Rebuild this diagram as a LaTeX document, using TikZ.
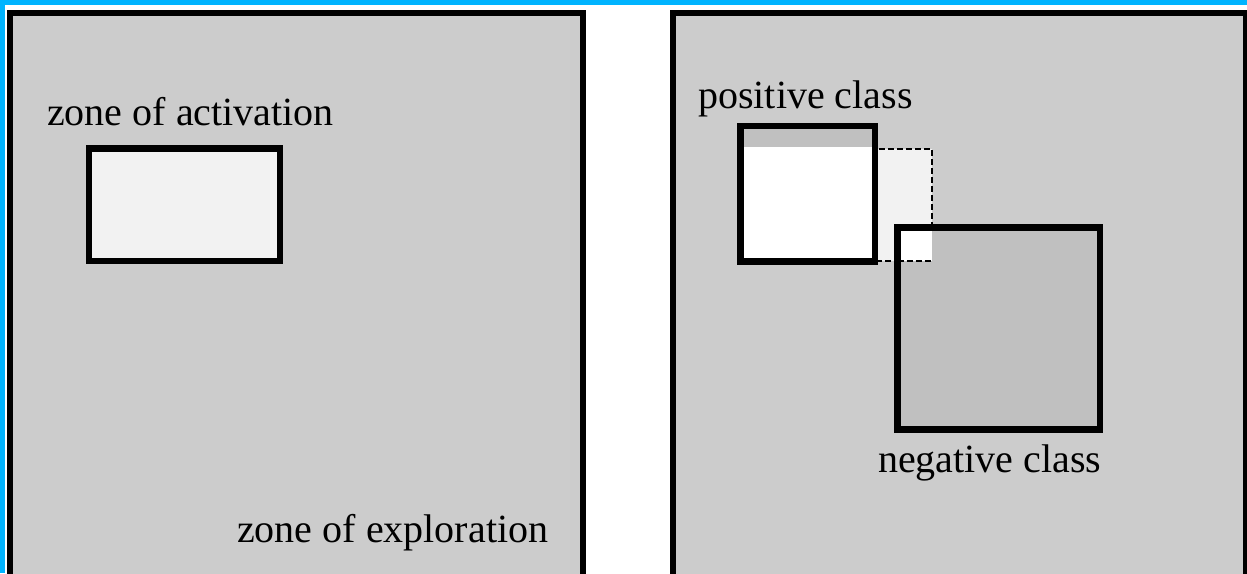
\documentclass[tikz,border=0pt]{standalone}
\usepackage{fontspec}
\setmainfont{Liberation Serif}
\definecolor{bgblue}{RGB}{0,180,255}
\definecolor{panelgray}{RGB}{204,204,204}
\definecolor{actfill}{RGB}{242,242,242}
\definecolor{neggray}{RGB}{192,192,192}
\begin{document}
\begin{tikzpicture}[x=1pt,y=-1pt,
  panel/.style={draw=black,line width=6pt,fill=panelgray},
  boxedge/.style={draw=black,line width=6.7pt},
  lbl/.style={anchor=base west,inner sep=0pt,font=\fontsize{40}{48}\selectfont},
  dashedge/.style={draw=black,dash pattern=on 6pt off 3pt,line width=2pt}]
\useasboundingbox (0,0) rectangle (1247,573);
\clip (0,0) rectangle (1247,573);
\fill[white] (0,0) rectangle (1247,573);
\fill[bgblue] (0,0) rectangle (1247,5);
\fill[bgblue] (0,0) rectangle (5,573);
% left panel
\draw[panel] (10,13) rectangle (583,600);
\draw[boxedge,fill=actfill] (89,148.3) rectangle (280,261);
\node[lbl] (act) at (47,125) {zone of activation};
\node[lbl] (expl) at (237,542) {zone of exploration};
% right panel
\draw[panel] (672.5,13) rectangle (1246,600);
\fill[actfill] (741,149) rectangle (932,261);
\draw[dashedge] (932,227.7) -- (932,149) -- (741,149);
\draw[dashedge] (741,261) -- (932,261);
\fill[neggray] (897.7,227.7) rectangle (1100,429.4);
\fill[white] (897.7,227.7) rectangle (932,261);
\draw[dashedge] (897.7,261) -- (932,261);
\fill[white] (740.7,126) rectangle (875,261.3);
\fill[neggray] (740.7,126) rectangle (875,147.3);
\draw[boxedge] (740.7,126) rectangle (875,261.3);
\draw[boxedge] (897.7,227.7) rectangle (1100,429.4);
\node[lbl] (pos) at (698,108.5) {positive class};
\node[lbl] (neg) at (878,472.7) {negative class};
\end{tikzpicture}
\end{document}
